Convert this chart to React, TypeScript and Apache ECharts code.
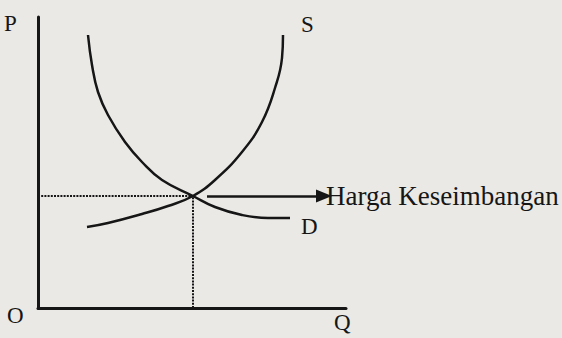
import React, { useEffect, useRef } from "react";
import * as echarts from "echarts";

// Quantity (Q) and price (P) readings for the two curves
const demandQ = [50, 54, 60, 70, 87, 104, 124, 155, 177, 204, 230, 252];
const demandP = [273, 243, 216, 193, 166, 146, 128, 112, 101, 93, 90, 90];
const supplyQ = [49, 70, 104, 130, 155, 177, 204, 224, 237, 244, 245];
const supplyP = [81, 85, 94, 102, 112, 128, 156, 186, 220, 250, 273];
const equilibrium = { q: 155, p: 112 };
const arrowQ = [169, 286];
const axisMaxQ = 308;
const axisMaxP = 291;
const labels = { p: "P", q: "Q", o: "O", s: "S", d: "D", eq: "Harga Keseimbangan" };

const FONT = "Liberation Serif";
const INK = "#161616";

export default function App() {
  const ref = useRef<HTMLDivElement>(null);
  useEffect(() => {
    if (!ref.current) return;
    const chart = echarts.init(ref.current, undefined, { renderer: "svg" });
    const demand = demandQ.map((q, i) => [q, demandP[i]]);
    const supply = supplyQ.map((q, i) => [q, supplyP[i]]);
    const axisLabelText = (text: string, x: number, y: number) => ({
      type: "text",
      x,
      y,
      style: { text, fontFamily: FONT, fontSize: 23, fill: INK },
    });
    chart.setOption({
      animation: false,
      backgroundColor: "#ebe9e5",
      grid: { left: 38, top: 17, width: 308, height: 291 },
      xAxis: {
        type: "value",
        min: 0,
        max: axisMaxQ,
        axisLine: { show: true, onZero: false, lineStyle: { color: INK, width: 3 } },
        axisTick: { show: false },
        axisLabel: { show: false },
        splitLine: { show: false },
      },
      yAxis: {
        type: "value",
        min: 0,
        max: axisMaxP,
        axisLine: { show: true, onZero: false, lineStyle: { color: INK, width: 3 } },
        axisTick: { show: false },
        axisLabel: { show: false },
        splitLine: { show: false },
      },
      graphic: [
        axisLabelText(labels.p, 4, 12),
        axisLabelText(labels.o, 7, 304),
        axisLabelText(labels.q, 334, 311),
      ],
      series: [
        {
          type: "line",
          name: labels.d,
          data: demand,
          smooth: 0.45,
          symbol: "none",
          lineStyle: { color: INK, width: 2.5 },
          endLabel: {
            show: true,
            formatter: labels.d,
            offset: [3, 8],
            color: INK,
            fontFamily: FONT,
            fontSize: 23,
          },
        },
        {
          type: "line",
          name: labels.s,
          data: supply,
          smooth: 0.45,
          symbol: "none",
          lineStyle: { color: INK, width: 2.5 },
          endLabel: {
            show: true,
            formatter: labels.s,
            offset: [10, -11],
            color: INK,
            fontFamily: FONT,
            fontSize: 23,
          },
        },
        {
          type: "line",
          data: [
            [0, equilibrium.p],
            [equilibrium.q, equilibrium.p],
          ],
          symbol: "none",
          lineStyle: { color: INK, width: 2, type: [2, 1.2] },
        },
        {
          type: "line",
          data: [
            [equilibrium.q, 0],
            [equilibrium.q, equilibrium.p],
          ],
          symbol: "none",
          lineStyle: { color: INK, width: 2, type: [2, 1.2] },
          markLine: {
            silent: true,
            symbol: ["none", "triangle"],
            symbolSize: [13, 16],
            lineStyle: { color: INK, width: 2.5, type: "solid" },
            label: {
              show: true,
              position: "end",
              formatter: labels.eq,
              color: INK,
              fontFamily: FONT,
              fontSize: 27,
              distance: 2,
            },
            data: [
              [
                { coord: [arrowQ[0], equilibrium.p] },
                { coord: [arrowQ[1], equilibrium.p] },
              ],
            ],
          },
        },
      ],
    });
    return () => chart.dispose();
  }, []);
  return (
    <div
      ref={ref}
      style={{ position: "fixed", left: 0, top: 0, width: 562, height: 338 }}
    />
  );
}
